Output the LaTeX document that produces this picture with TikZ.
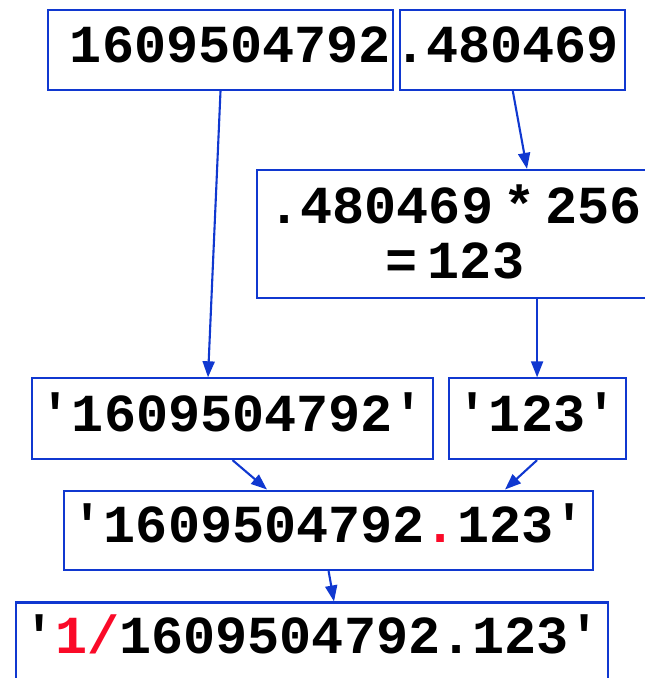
\documentclass[tikz,border=0pt]{standalone}
\usepackage{fontspec}
\setmonofont{Liberation Mono}
\usepackage{xcolor}
\usepackage{tikz}
\usetikzlibrary{
  arrows.meta,
  positioning
}
\definecolor{linkblue}{RGB}{16,56,208}
\definecolor{markred}{RGB}{250,10,40}
\tikzset{
  numbox/.style={
    draw=linkblue,
    line width=2.1pt,
    inner xsep=0pt,
    inner ysep=0pt,
    minimum height=80pt,
    text height=36pt,
    text depth=11pt,
    font=\fontsize{53.5pt}{55pt}\selectfont\ttfamily\bfseries
  },
  linkarrow/.style={-{Triangle[length=16pt,width=12pt]},line width=2.1pt,draw=linkblue},
}

\begin{document}
\begin{tikzpicture}[x=1pt,y=-1pt]
  \useasboundingbox (0,0) rectangle (645,678);
  \node[numbox,text width=341pt,inner xsep=2pt,align=right] (intpart) at (220.5,50) {1609504792};
  \node[numbox,text width=225pt,align=left,right=5.2pt of intpart] (fracpart) {\hspace*{-6pt}.480469};
  \node[numbox,minimum width=396pt,minimum height=127.7pt,text height=91pt,text depth=2pt,align=center] (scaled) at (455,233.8) {
    .480469\kern10pt*\kern10pt256\\=\kern10pt123
  };
  \node[numbox,minimum width=401pt,minimum height=80.7pt] (intstr) at (232.5,418.7) {'1609504792'};
  \node[numbox,minimum width=177pt,minimum height=80.7pt,right=13.5pt of intstr] (fracstr) {'123'};
  \node[numbox,minimum width=529pt,minimum height=79.5pt] (joined) at (328.6,530.3) {
    '1609504792{\color{markred}.}123'
  };
  \node[numbox,minimum width=592pt,minimum height=77pt] (prefixed) at (312,641) {
    '{\color{markred}1/}1609504792.123'
  };

  \draw[linkarrow] (intpart.south) -- ([xshift=-24.5pt]intstr.north);
  \draw[linkarrow] (fracpart.south) -- ([xshift=72pt]scaled.north);
  \draw[linkarrow] (scaled.south -| fracstr.north) -- (fracstr.north);
  \draw[linkarrow] (intstr.south) -- ([xshift=-61.6pt]joined.north);
  \draw[linkarrow] (fracstr.south) -- ([xshift=176.4pt]joined.north);
  \draw[linkarrow] (joined.south) -- ([xshift=22pt]prefixed.north);
\end{tikzpicture}
\end{document}
